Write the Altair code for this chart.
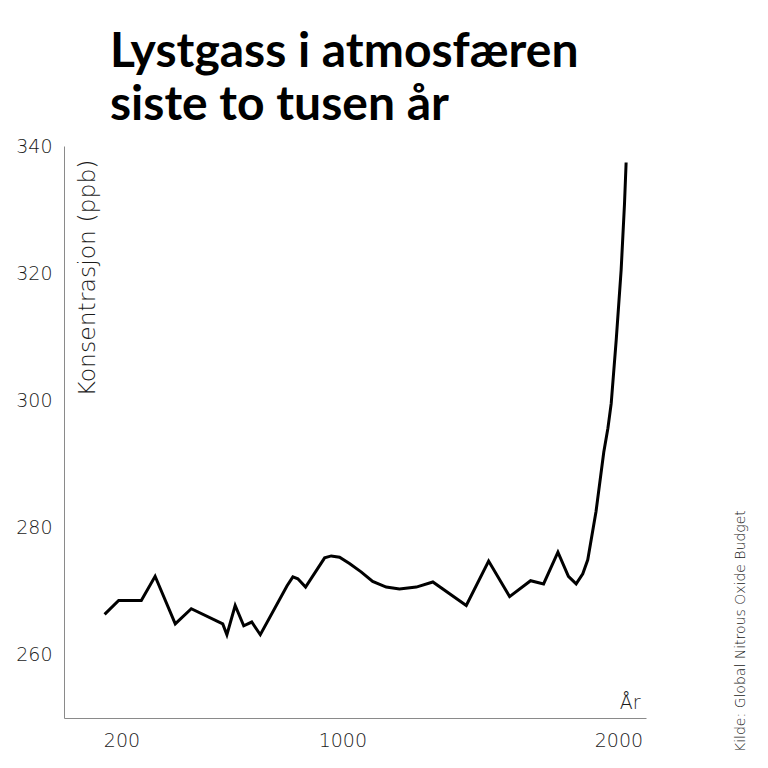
import altair as alt
import pandas as pd

years = [139, 190, 272, 322, 395, 453, 567, 582, 612, 643, 672, 703, 800, 821, 839, 867,
         936, 960, 990, 1026, 1068, 1110, 1159, 1207, 1268, 1328, 1449, 1530, 1606, 1682,
         1729, 1781, 1819, 1847, 1871, 1889, 1919, 1947, 1962, 1974, 1992, 2010, 2022, 2028]
ppb = [266.3, 268.5, 268.5, 272.3, 264.8, 267.2, 264.8, 263.1, 267.7, 264.5, 265.1, 263.1,
       270.8, 272.2, 271.9, 270.6, 275.2, 275.5, 275.3, 274.3, 273.0, 271.5, 270.6, 270.3,
       270.6, 271.4, 267.7, 274.7, 269.1, 271.6, 271.1, 276.1, 272.3, 271.1, 272.7, 274.9,
       282.5, 291.8, 295.6, 299.5, 309.4, 320.5, 330.8, 337.4]
x_ticks = [200, 1000, 2000]
y_ticks = [260, 280, 300, 320, 340]
title_line1 = "Lystgass i atmosfæren"
title_line2 = "siste to tusen år"
source = "Kilde: Global Nitrous Oxide Budget"

df = pd.DataFrame({"year": years, "ppb": ppb})

FONT = "DejaVu Sans"
TFONT = "Lato"
LW = 200

line = alt.Chart(df).mark_line(color="#000000", strokeWidth=3).encode(
    x=alt.X("year:Q", scale=alt.Scale(domain=[-8, 2100], nice=False, zero=False),
            axis=alt.Axis(values=x_ticks, format="d", title="År", ticks=False, grid=False,
                          domainColor="#8a8a8a", domainWidth=1, labelPadding=13,
                          labelFontSize=19, labelFont=FONT, labelFontWeight=LW,
                          labelColor="#1a1a1a", labelFlush=False,
                          titleFont=FONT, titleFontSize=19, titleFontWeight=LW,
                          titleColor="#1a1a1a", titleX=576, titleY=-10,
                          titleAlign="right", titleBaseline="alphabetic")),
    y=alt.Y("ppb:Q", scale=alt.Scale(domain=[250, 340], nice=False, zero=False),
            axis=alt.Axis(values=y_ticks, title="Konsentrasjon (ppb)", ticks=False,
                          grid=False, domainColor="#8a8a8a", domainWidth=1,
                          labelPadding=12, labelFontSize=19, labelFont=FONT,
                          labelFontWeight=LW, labelColor="#1a1a1a", labelFlush=False,
                          titleFont=FONT, titleFontSize=23.5, titleFontWeight=LW,
                          titleColor="#1a1a1a", titleAngle=270, titleX=23, titleY=13,
                          titleAlign="right", titleBaseline="middle")),
)

def txt(t, **kw):
    return alt.Chart(pd.DataFrame({"t": [t]})).mark_text(**kw).encode(text="t:N")

src = txt(source, angle=270, align="left", baseline="middle", font=FONT, fontSize=14,
          fontWeight=LW, color="#1a1a1a").encode(x=alt.value(677), y=alt.value(606))

t1 = txt(title_line1, align="left", baseline="alphabetic", font=TFONT, fontSize=48,
         fontWeight="bold", color="#000000").encode(x=alt.value(46), y=alt.value(-79))
t2 = txt(title_line2, align="left", baseline="alphabetic", font=TFONT, fontSize=48,
         fontWeight="bold", color="#000000").encode(x=alt.value(46), y=alt.value(-26))

chart = alt.layer(line, src, t1, t2).properties(
    width=582, height=572,
    autosize=alt.AutoSizeParams(type="none"),
    padding={"left": 64, "top": 146, "right": 122, "bottom": 50},
).configure(background="white").configure_view(strokeWidth=0, stroke=None)

chart.save("out.html", embed_options={"renderer": "svg", "actions": False})
